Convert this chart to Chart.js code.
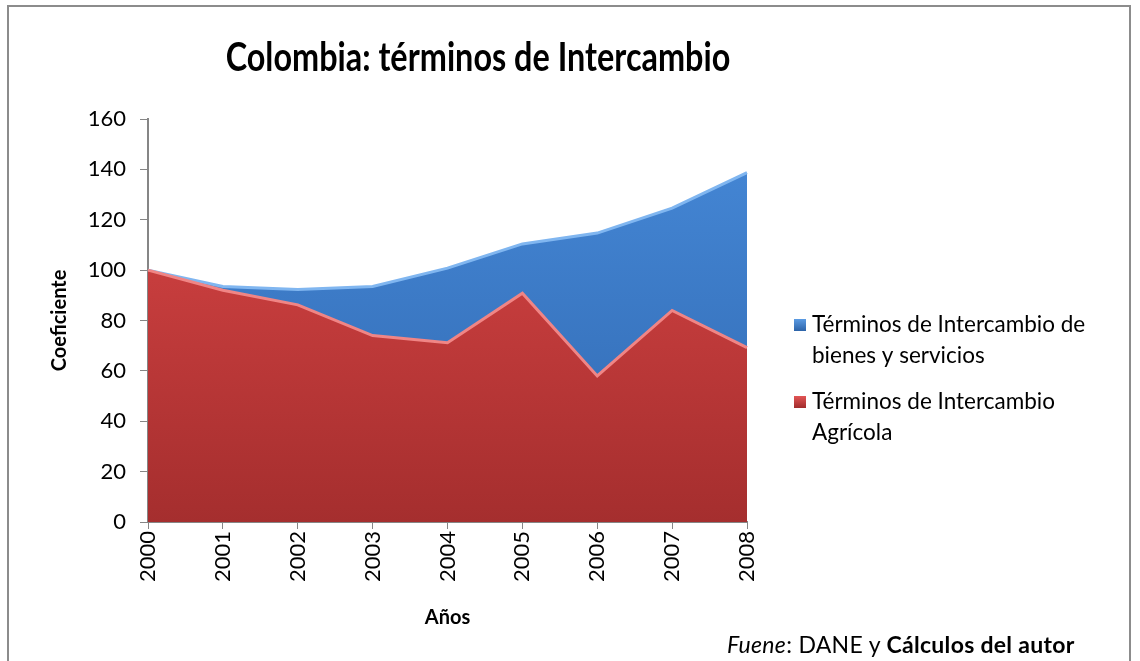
<!DOCTYPE html>
<html>
<head>
<meta charset="utf-8">
<script src="https://cdn.jsdelivr.net/npm/chart.js@4"></script>
<style>
  html, body { margin: 0; padding: 0; background: #fff; }
  #wrap { position: relative; width: 1140px; height: 661px; overflow: hidden; }
  #frame { position: absolute; left: 7px; top: 5px; width: 1124px; height: 700px; border: 2px solid #8c8c8c; box-sizing: border-box; }
  canvas { position: absolute; left: 0; top: 0; }
  #source { position: absolute; left: 727px; top: 630px; font: 23px Lato, sans-serif; color: #000; white-space: nowrap; letter-spacing: 0.3px; }
</style>
</head>
<body>
<div id="wrap">
  <div id="frame"></div>
  <canvas id="chart" width="1140" height="661"></canvas>
  <div id="source"><i>Fuene</i>: DANE y <b>Cálculos del autor</b></div>
</div>
<script>
// datos
const years = ["2000", "2001", "2002", "2003", "2004", "2005", "2006", "2007", "2008"];
const bienesServicios = [100, 93.5, 92.3, 93.5, 100.8, 110.4, 114.7, 124.6, 138.7];
const agricola = [100, 92, 86.2, 74, 71.2, 90.8, 58, 84, 69.2];
const yTicks = [0, 20, 40, 60, 80, 100, 120, 140, 160];

const titleText = "Colombia: términos de Intercambio";
const legendItems = [
  { lines: ["Términos de Intercambio de", "bienes y servicios"], top: "#5b9be3", bottom: "#2c63a8" },
  { lines: ["Términos de Intercambio", "Agrícola"], top: "#e25555", bottom: "#a02b2b" }
];

function fillGradient(c1, c2) {
  return (context) => {
    const { ctx, chartArea } = context.chart;
    if (!chartArea) return c1;
    const g = ctx.createLinearGradient(0, chartArea.top, 0, chartArea.bottom);
    g.addColorStop(0, c1);
    g.addColorStop(1, c2);
    return g;
  };
}

// título y leyenda dibujados a mano
const extras = {
  id: "extras",
  afterDraw(chart) {
    const { ctx } = chart;
    ctx.save();
    ctx.fillStyle = "#000";
    ctx.font = "bold 40px Lato, sans-serif";
    ctx.textAlign = "center";
    ctx.textBaseline = "middle";
    ctx.translate(478, 58);
    ctx.scale(0.81, 1);
    ctx.fillText(titleText, 0, 0);
    ctx.restore();

    ctx.save();
    ctx.font = "22.5px Lato, sans-serif";
    ctx.textAlign = "left";
    ctx.textBaseline = "middle";
    let y = 325;
    legendItems.forEach((item) => {
      const g = ctx.createLinearGradient(0, y - 6, 0, y + 6);
      g.addColorStop(0, item.top);
      g.addColorStop(1, item.bottom);
      ctx.fillStyle = g;
      ctx.fillRect(794, y - 6, 12, 12);
      ctx.fillStyle = "#000";
      item.lines.forEach((line, i) => {
        ctx.fillText(line, 812, y + i * 31);
      });
      y += 77;
    });
    ctx.restore();
  }
};

new Chart(document.getElementById("chart"), {
  type: "line",
  data: {
    labels: years,
    datasets: [
      {
        label: "Términos de Intercambio Agrícola",
        data: agricola,
        fill: "origin",
        backgroundColor: fillGradient("#dc4747", "#a52e2e"),
        borderColor: "#f08585",
        borderWidth: 3,
        pointRadius: 0,
        tension: 0
      },
      {
        label: "Términos de Intercambio de bienes y servicios",
        data: bienesServicios,
        fill: "origin",
        backgroundColor: fillGradient("#4689d8", "#3068b0"),
        borderColor: "#80b6f0",
        borderWidth: 3,
        pointRadius: 0,
        tension: 0
      }
    ]
  },
  options: {
    responsive: false,
    animation: false,
    layout: { padding: { top: 119, right: 393, bottom: 0, left: 0 } },
    plugins: {
      legend: { display: false },
      title: { display: false },
      tooltip: { enabled: false }
    },
    scales: {
      x: {
        offset: false,
        border: { color: "#868686", width: 2 },
        grid: { drawOnChartArea: false, tickLength: 7, color: "#868686" },
        ticks: {
          color: "#000",
          font: { family: "Lato, sans-serif", size: 22 },
          minRotation: 90,
          maxRotation: 90,
          padding: 2
        },
        title: {
          display: true,
          text: "Años",
          color: "#000",
          font: { family: "Lato, sans-serif", size: 20, weight: "bold" },
          padding: { top: 0, bottom: 31 }
        },
        afterFit(scale) { scale.height = 139; }
      },
      y: {
        min: 0,
        max: 160,
        afterBuildTicks(scale) { scale.ticks = yTicks.map((v) => ({ value: v })); },
        border: { color: "#868686", width: 2 },
        grid: { drawOnChartArea: false, tickLength: 8, color: "#868686" },
        ticks: {
          color: "#000",
          font: { family: "Lato, sans-serif", size: 22 },
          padding: 14
        },
        title: {
          display: true,
          text: "Coeficiente",
          color: "#000",
          font: { family: "Lato, sans-serif", size: 20, weight: "bold" },
          padding: { top: 48, bottom: 0 }
        },
        afterFit(scale) { scale.width = 148; }
      }
    }
  },
  plugins: [extras]
});
</script>
</body>
</html>
